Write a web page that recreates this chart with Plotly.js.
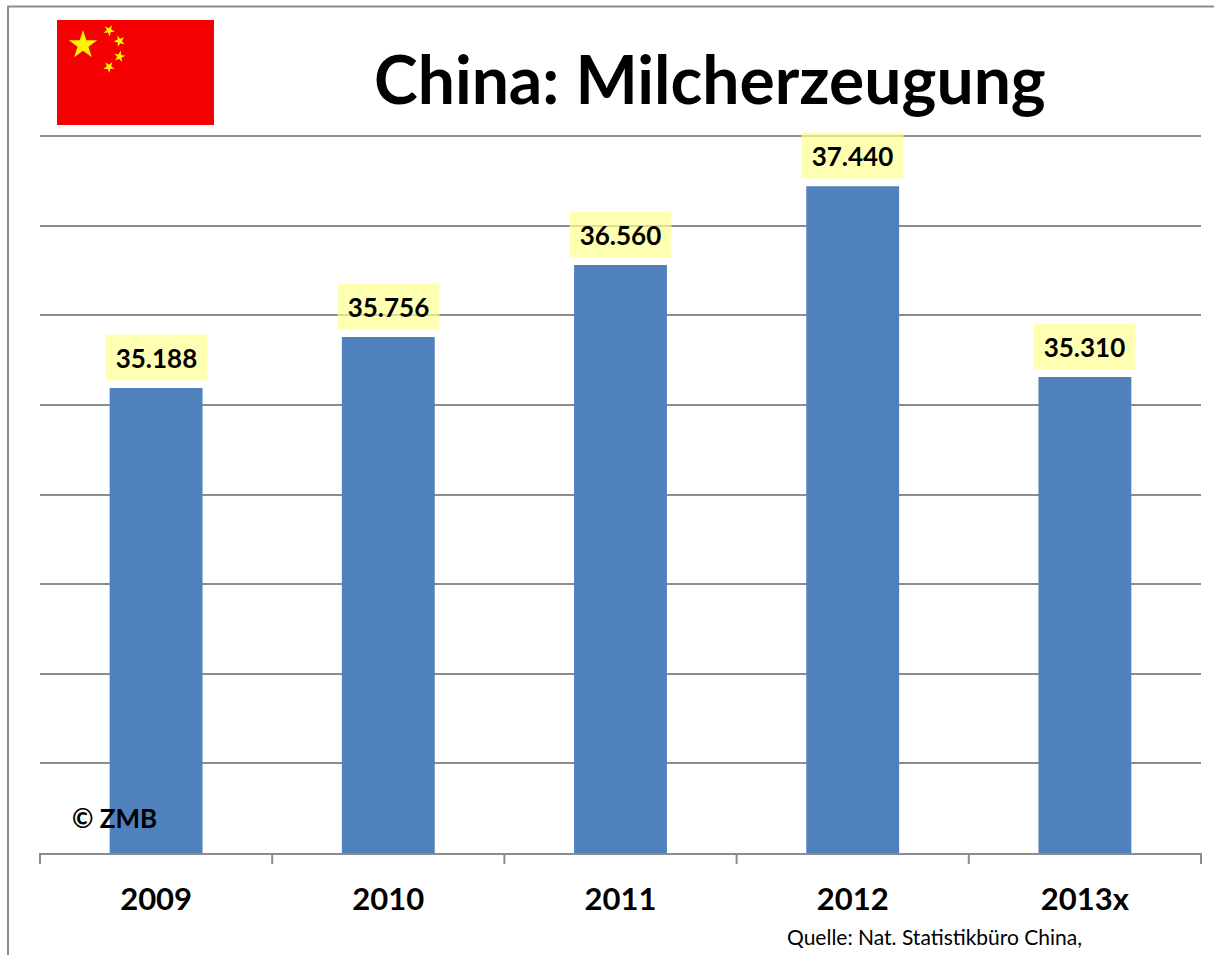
<!DOCTYPE html>
<html><head><meta charset="utf-8">
<script src="https://cdn.plot.ly/plotly-3.0.1.min.js"></script>
<style>html,body{margin:0;padding:0;background:#fff;overflow:hidden}</style>
</head><body><div id="chart" style="width:1214px;height:955px"></div>
<script>
const categories = ["2009","2010","2011","2012","2013x"];
const values = [35188,35756,36560,37440,35310];
const valueLabels = ["35.188","35.756","36.560","37.440","35.310"];
const titleText = "China: Milcherzeugung";
const creditText = "© ZMB";
const sourceText = "Quelle: Nat. Statistikbüro China,";

const W=1214,H=955,L=40,R=1201,T=136,B=853;
const px=x=>(x-L)/(R-L), py=y=>(B-y)/(B-T);
const FONT='Lato, Carlito, "Open Sans", sans-serif';
const GREY='#8c8c8c';

function star(cx,cy,r,rot){
  let d='';
  for(let i=0;i<10;i++){
    const rad=i%2?r*0.382:r, a=rot-Math.PI/2+i*Math.PI/5;
    d+=(i?'L':'M')+px(cx+rad*Math.cos(a)).toFixed(5)+','+py(cy+rad*Math.sin(a)).toFixed(5);
  }
  return d+'Z';
}
const shapes=[
 {type:'line',xref:'paper',yref:'paper',x0:px(8),x1:px(8),y0:py(6),y1:py(955),line:{color:GREY,width:2}},
 {type:'line',xref:'paper',yref:'paper',x0:px(7),x1:px(1214),y0:py(6.5),y1:py(6.5),line:{color:GREY,width:2}},
 {type:'rect',xref:'paper',yref:'paper',x0:px(57),x1:px(214),y0:py(20),y1:py(125),fillcolor:'#f50000',line:{width:0}},
 ...[[83,45,15,0],[109,30.5,6,0.5],[119.5,41,6,0.9],[119.5,56.5,6,0.2],[109,67,6,0.6]].map(s=>({
   type:'path',xref:'paper',yref:'paper',path:star(s[0],s[1],s[2],s[3]),fillcolor:'#fff200',line:{width:0}})),
 {type:'line',xref:'paper',yref:'paper',x0:0,x1:1,y0:1,y1:1,line:{color:GREY,width:2}}
];
const labelAnn=categories.map((c,i)=>({
  x:i,y:values[i],xref:'x',yref:'y',text:'<b>'+valueLabels[i]+'</b>',showarrow:false,
  yanchor:'bottom',yshift:7,width:101,height:45,bgcolor:'rgba(255,255,146,0.7)',borderpad:0,
  font:{family:FONT,size:26,color:'#000'}
}));
const free=(x,y,text,size,anchor)=>({xref:'paper',yref:'paper',x:px(x),y:py(y),text,showarrow:false,
  xanchor:anchor,yanchor:'middle',font:{family:FONT,size,color:'#000'}});

Plotly.newPlot('chart',[{
  type:'bar',x:categories,y:values,marker:{color:'#4f81bd'},hoverinfo:'x+y'
}],{
  width:W,height:H,margin:{l:L,r:W-R,t:T,b:H-B,pad:0},
  paper_bgcolor:'#fff',plot_bgcolor:'#fff',showlegend:false,bargap:0.6,
  xaxis:{type:'category',range:[-0.5,4.5],showgrid:false,zeroline:false,showline:true,
    linecolor:GREY,linewidth:2,ticks:'',tickfont:{family:FONT,size:31,color:'#000',weight:700},ticklabelstandoff:18},
  yaxis:{range:[30000,38000],dtick:1000,showticklabels:false,ticks:'',gridcolor:GREY,gridwidth:2,zeroline:false,showline:false},
  shapes:[...shapes,
    ...[0,1,2,3,4,5].map(i=>({type:'line',xref:'paper',yref:'paper',x0:i/5,x1:i/5,y0:py(853),y1:py(864),line:{color:GREY,width:2}}))],
  annotations:[...labelAnn,
    free(710,79,'<b>'+titleText+'</b>',66,'center'),
    free(70,818,'<b>'+creditText+'</b>',26,'left'),
    free(785,936,sourceText,21,'left')]
},{displayModeBar:false,responsive:false});
</script></body></html>
